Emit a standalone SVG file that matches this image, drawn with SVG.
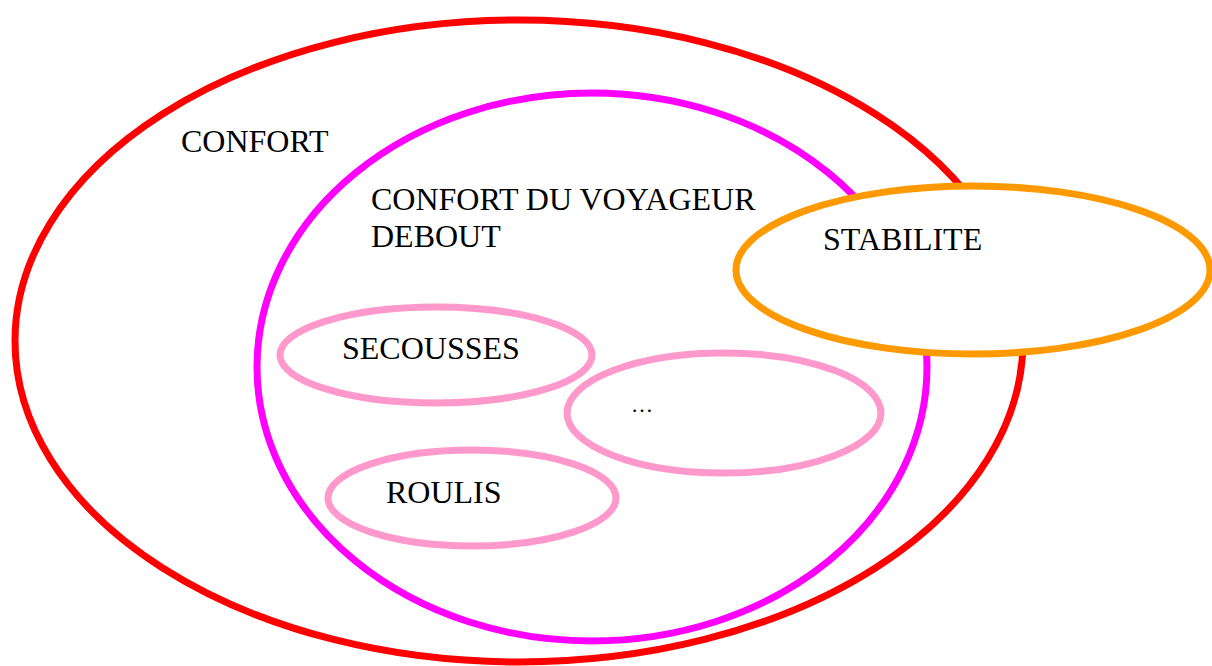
<svg xmlns="http://www.w3.org/2000/svg" width="1212" height="666" viewBox="0 0 1212 666">
<style>
.t{font-family:"Liberation Serif","Times New Roman",serif;font-size:32px;fill:#000}
.e{stroke-width:7}
</style>
<rect width="1212" height="666" fill="#fff"/>
<g id="confort"><ellipse class="e" cx="519" cy="341" rx="504" ry="321" fill="none" stroke="#ff0000"/>
<text class="t" x="181" y="152">CONFORT</text></g>
<g id="confort-voyageur"><ellipse class="e" cx="592" cy="367" rx="335" ry="274" fill="none" stroke="#ff00ff"/>
<text class="t" x="371" y="210">CONFORT DU VOYAGEUR</text>
<text class="t" x="371" y="247">DEBOUT</text></g>
<g id="stabilite"><ellipse class="e" cx="973" cy="270" rx="237" ry="84" fill="#fff" stroke="#ff9900"/>
<text class="t" x="823" y="250">STABILITE</text></g>
<g id="secousses"><ellipse class="e" cx="436" cy="355" rx="156" ry="48" fill="none" stroke="#ff99cc"/>
<text class="t" x="342" y="359">SECOUSSES</text></g>
<g id="autres"><ellipse class="e" cx="724" cy="413" rx="157" ry="60" fill="none" stroke="#ff99cc"/>
<text class="t" x="631" y="412" style="font-size:22px">…</text></g>
<g id="roulis"><ellipse class="e" cx="472" cy="498" rx="144" ry="48" fill="none" stroke="#ff99cc"/>
<text class="t" x="386" y="503">ROULIS</text></g>
<g id="connectors"></g>
</svg>
